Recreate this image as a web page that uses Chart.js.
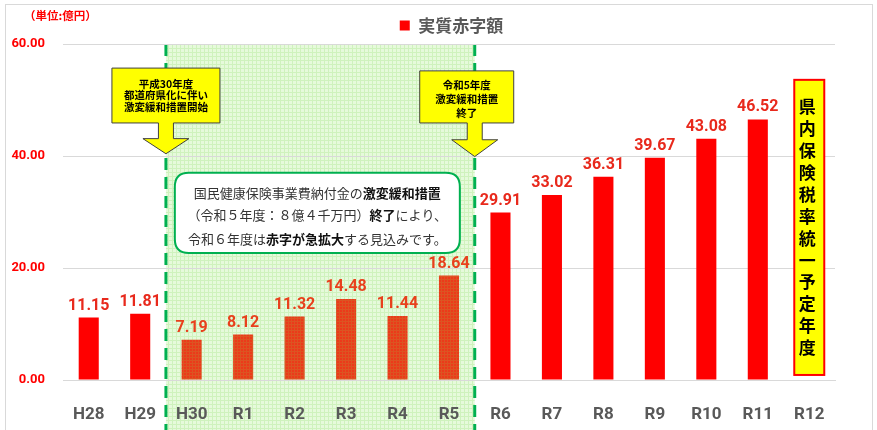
<!DOCTYPE html>
<html><head><meta charset="utf-8">
<script src="https://cdn.jsdelivr.net/npm/chart.js@4.4.0/dist/chart.umd.min.js"></script>
<style>html,body{margin:0;padding:0;background:#fff}#wrap{width:877px;height:430px}</style>
</head><body><div id="wrap"><canvas id="c" width="877" height="430"></canvas></div>
<script>
const categories = ['H28','H29','H30','R1','R2','R3','R4','R5','R6','R7','R8','R9','R10','R11','R12'];
const deficit = [11.15,11.81,7.19,8.12,11.32,14.48,11.44,18.64,29.91,33.02,36.31,39.67,43.08,46.52,null];
const yTicks = [0,20,40,60];
const seriesName = '実質赤字額';
const unitLabel = '（単位:億円）';
const mitigationStart = 2;   // H30
const mitigationEnd = 7;     // R5
const calloutStartLines = ['平成30年度','都道府県化に伴い','激変緩和措置開始'];
const calloutEndLines = ['令和5年度','激変緩和措置','終了'];
const noteLines = [
  [['国民健康保険事業費納付金の',false],['激変緩和措置',true]],
  [['（令和５年度：８億４千万円）',false],['終了',true],['により、',false]],
  [['令和６年度は',false],['赤字が急拡大',true],['する見込みです。',false]]
];
const unifyIndex = 14;
const unifyText = '県内保険税率統一予定年度';

const JP = "'Noto Sans CJK JP', sans-serif";
const NUM = "Roboto, 'Noto Sans', sans-serif";

const ctx = document.getElementById('c').getContext('2d');
function makePattern(base, line, step){
  const p = document.createElement('canvas'); p.width = step; p.height = step;
  const g = p.getContext('2d');
  g.fillStyle = base; g.fillRect(0,0,step,step);
  g.fillStyle = line; g.fillRect(0,0,step,1); g.fillRect(0,0,1,step);
  return ctx.createPattern(p,'repeat');
}
const barHatch = makePattern('#ec3a1a','#dc5422',3);
const zoneHatch = makePattern('#e6fadb','#cff2bd',4);
const barColors = deficit.map((v,i)=> (i>=mitigationStart && i<=mitigationEnd) ? barHatch : '#ff0000');

function zoneBounds(chart){
  const x = chart.scales.x;
  const l = (x.getPixelForValue(mitigationStart-1) + x.getPixelForValue(mitigationStart))/2;
  const r = (x.getPixelForValue(mitigationEnd) + x.getPixelForValue(mitigationEnd+1))/2;
  return {l, r};
}

const backdrop = {
  id:'backdrop',
  beforeDraw(chart){
    const c = chart.ctx, a = chart.chartArea;
    c.save();
    c.fillStyle = '#fff'; c.fillRect(0,0,chart.width,chart.height);
    c.strokeStyle = '#d9d9d9'; c.lineWidth = 1;
    c.strokeRect(5.5,4.5,chart.width-10,chart.height+10);
    const {l, r} = zoneBounds(chart);
    c.fillStyle = zoneHatch;
    c.fillRect(l, a.top, r-l, chart.height-a.top);
    c.strokeStyle = '#00b050'; c.lineWidth = 3; c.setLineDash([12,7]);
    [l, r].forEach(xp=>{ c.beginPath(); c.moveTo(xp, a.top); c.lineTo(xp, chart.height); c.stroke(); });
    c.setLineDash([]);
    c.fillStyle = '#ff0000'; c.font = 'bold 11.5px ' + JP; c.textBaseline = 'middle'; c.textAlign = 'left';
    c.fillText(unitLabel, 24, 16);
    c.restore();
  },
  afterLayout(chart){
    const lg = chart.legend; if (lg){ lg.left += 34; lg.right += 34; }
  }
};

function drawCallout(c, tx, boxCx, boxW, top, bottom, headTop, tip, lines, lineGap, textY){
  const bl = boxCx - boxW/2, br = boxCx + boxW/2;
  const sh = 7.5, hh = 23;
  c.beginPath();
  c.moveTo(bl, top); c.lineTo(br, top); c.lineTo(br, bottom);
  c.lineTo(tx+sh, bottom); c.lineTo(tx+sh, headTop); c.lineTo(tx+hh, headTop);
  c.lineTo(tx, tip); c.lineTo(tx-hh, headTop); c.lineTo(tx-sh, headTop);
  c.lineTo(tx-sh, bottom); c.lineTo(bl, bottom); c.closePath();
  c.fillStyle = '#ffff00'; c.fill();
  c.strokeStyle = '#404040'; c.lineWidth = 1; c.stroke();
  c.fillStyle = '#000'; c.font = 'bold 10.5px ' + JP; c.textAlign = 'center'; c.textBaseline = 'middle';
  lines.forEach((t,i)=> c.fillText(t, boxCx, textY + i*lineGap));
}

function roundRect(c, x, y, w, h, r){
  c.beginPath();
  c.moveTo(x+r, y); c.lineTo(x+w-r, y); c.quadraticCurveTo(x+w, y, x+w, y+r);
  c.lineTo(x+w, y+h-r); c.quadraticCurveTo(x+w, y+h, x+w-r, y+h);
  c.lineTo(x+r, y+h); c.quadraticCurveTo(x, y+h, x, y+h-r);
  c.lineTo(x, y+r); c.quadraticCurveTo(x, y, x+r, y); c.closePath();
}

const overlay = {
  id:'overlay',
  afterDatasetsDraw(chart){
    const c = chart.ctx;
    const meta = chart.getDatasetMeta(0);
    c.save();
    c.font = 'bold 16px ' + NUM; c.textAlign = 'center'; c.textBaseline = 'bottom';
    meta.data.forEach((bar,i)=>{
      const v = deficit[i];
      if (v === null || v === undefined) return;
      c.fillStyle = (i>=mitigationStart && i<=mitigationEnd) ? '#e8401c' : '#e8291c';
      c.fillText(v.toFixed(2), bar.x, bar.y - 4);
    });
    c.restore();
  },
  afterDraw(chart){
    const c = chart.ctx, x = chart.scales.x, y = chart.scales.y;
    const {l, r} = zoneBounds(chart);
    c.save();
    drawCallout(c, l, l, 108, y.getPixelForValue(55.7), y.getPixelForValue(45.9), y.getPixelForValue(43.1), y.getPixelForValue(40.4), calloutStartLines, 11.5, 84);
    drawCallout(c, r, r-8, 94, y.getPixelForValue(55.2), y.getPixelForValue(45.9), y.getPixelForValue(42.9), y.getPixelForValue(39.9), calloutEndLines, 14, 85);
    const nbW = 285, nbX = (l+r)/2 - nbW/2 - 3;
    const nbTop = y.getPixelForValue(37), nbBot = y.getPixelForValue(22.7);
    roundRect(c, nbX, nbTop, nbW, nbBot-nbTop, 14);
    c.fillStyle = '#fff'; c.fill();
    c.strokeStyle = '#00b050'; c.lineWidth = 2; c.stroke();
    c.textBaseline = 'middle'; c.textAlign = 'left';
    const lineYs = [nbTop+20, nbTop+42, nbTop+66];
    noteLines.forEach((segs, li)=>{
      let total = 0;
      segs.forEach(([t,b])=>{ c.font = (b?'bold ':'') + '13px ' + JP; total += c.measureText(t).width; });
      let cx = nbX + nbW/2 - total/2;
      segs.forEach(([t,b])=>{
        c.font = (b?'bold ':'') + '13px ' + JP;
        c.fillStyle = b ? '#111' : '#333';
        c.fillText(t, cx, lineYs[li]);
        cx += c.measureText(t).width;
      });
    });
    const ux = x.getPixelForValue(unifyIndex);
    const uTop = y.getPixelForValue(53.6), uBot = y.getPixelForValue(0.9);
    c.fillStyle = '#ffff00'; c.fillRect(ux-15, uTop, 30, uBot-uTop);
    c.strokeStyle = '#ff0000'; c.lineWidth = 2; c.strokeRect(ux-15, uTop, 30, uBot-uTop);
    c.fillStyle = '#000'; c.font = 'bold 17px ' + JP; c.textAlign = 'center'; c.textBaseline = 'middle';
    const chars = Array.from(unifyText);
    chars.forEach((ch,i)=> c.fillText(ch, ux-2, uTop + 27 + i*21.9));
    c.restore();
  }
};

new Chart(ctx, {
  type:'bar',
  data:{ labels: categories, datasets:[{ label: seriesName, data: deficit, backgroundColor: barColors, borderWidth:0, barPercentage:0.39, categoryPercentage:1 }] },
  options:{
    responsive:false, animation:false, devicePixelRatio:1,
    layout:{ padding:{ top:7, right:42, left:0, bottom:0 } },
    plugins:{
      legend:{ display:true, position:'top', align:'center',
        labels:{ boxWidth:10, boxHeight:10, padding:10, color:'#595959', font:{ family:JP, size:17, weight:'bold' },
          generateLabels(){ return [{ text: seriesName, fillStyle:'#ff0000', strokeStyle:'#ff0000', lineWidth:0, fontColor:'#595959', datasetIndex:0 }]; } } },
      tooltip:{ enabled:false }
    },
    scales:{
      x:{ grid:{ display:false }, border:{ display:true, color:'#d9d9d9' },
        ticks:{ color:'#595959', font:{ family:NUM, size:17, weight:'bold' }, padding:17, maxRotation:0 },
        afterFit(s){ s.height = 50; } },
      y:{ min:0, max:60,
        afterBuildTicks(s){ s.ticks = yTicks.map(v=>({value:v})); },
        grid:{ color:'#d9d9d9', drawTicks:false }, border:{ display:false },
        ticks:{ color:'#ff0000', font:{ family:NUM, size:13, weight:'bold' }, padding:18, callback:v=>Number(v).toFixed(2) },
        afterFit(s){ s.width = 63; } }
    }
  },
  plugins:[backdrop, overlay]
});
</script>
</body></html>
